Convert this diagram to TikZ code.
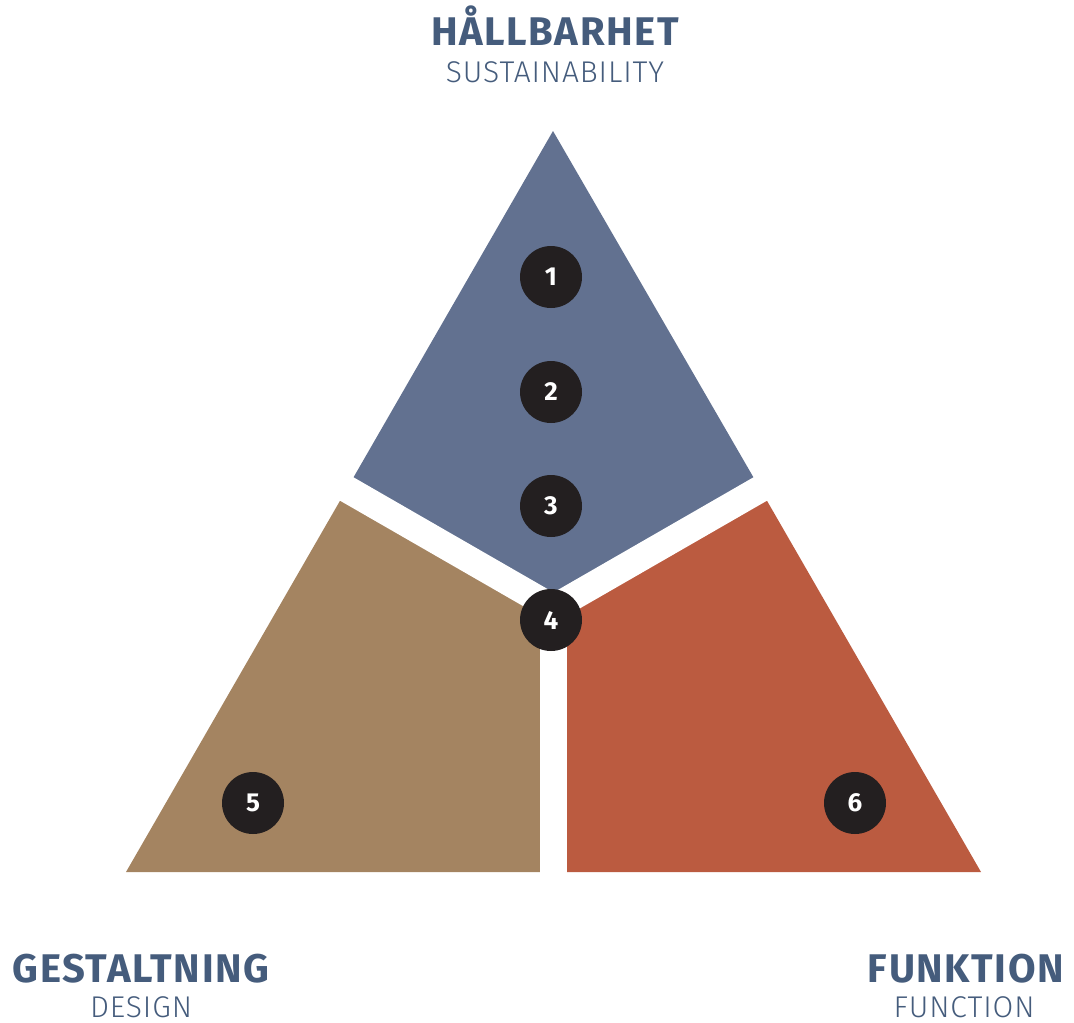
\documentclass[tikz,border=0pt]{standalone}
\usepackage{fontspec}
\setmainfont{Fira Sans}
\newfontfamily\lightfont{Fira Sans Light}[LetterSpace=3]
\newfontfamily\titlefont{Fira Sans Bold}[LetterSpace=4]
\definecolor{hallblue}{HTML}{627190}
\definecolor{gestbrown}{HTML}{A48461}
\definecolor{funkred}{HTML}{BB5B40}
\definecolor{dotblack}{HTML}{231F20}
\definecolor{titleblue}{HTML}{455C7C}
\begin{document}
\begin{tikzpicture}[x=1pt, y=-1pt]
      \tikzset{
        every node/.style={inner sep=0pt},
        title/.style={anchor=base, text=titleblue, font=\titlefont\fontsize{40}{40}\selectfont},
        subtitle/.style={anchor=base, text=titleblue, font=\lightfont\fontsize{30}{30}\selectfont},
        dot/.style={circle, fill=dotblack, minimum size=62pt, text=white, font=\bfseries\fontsize{26}{26}\selectfont},
        gap/.style={white, line width=27pt}
      }
      \path[use as bounding box] (0,0) rectangle (1074,1023);

      % corners and cut points
      \coordinate (top) at (553,131);
      \coordinate (left) at (126,872);
      \coordinate (right) at (981,872);
      \coordinate (mid) at (553.5,608);
      \coordinate (cutleft) at (346.8,489);
      \coordinate (cutright) at (760.2,489);
      \coordinate (cutbottom) at (553.5,872);

      \fill[hallblue] (mid) -- (cutleft) -- (top) -- (cutright) -- cycle;
      \fill[gestbrown] (mid) -- (cutleft) -- (left) -- (cutbottom) -- cycle;
      \fill[funkred] (mid) -- (cutbottom) -- (right) -- (cutright) -- cycle;
      \draw[gap, shorten >=-10pt] (mid) -- (cutleft);
      \draw[gap, shorten >=-10pt] (mid) -- (cutright);
      \draw[gap, shorten >=-10pt] (mid) -- (cutbottom);

      \node[dot] (one) at (551,277) {1};
      \node[dot] (two) at (551,392) {2};
      \node[dot] (three) at (551,506) {3};
      \node[dot] (four) at (551,620) {4};
      \node[dot] (five) at (253,803) {5};
      \node[dot] (six) at (855,803) {6};

      \node[title] (hallbarhet) at (555,45) {HÅLLBARHET};
      \node[subtitle] (sustainability) at (555,82) {SUSTAINABILITY};
      \node[title] (gestaltning) at (141,982) {GESTALTNING};
      \node[subtitle] (design) at (141,1017) {DESIGN};
      \node[title] (funktion) at (966,982) {FUNKTION};
      \node[subtitle] (function) at (964,1017) {FUNCTION};
    \end{tikzpicture}
\end{document}
